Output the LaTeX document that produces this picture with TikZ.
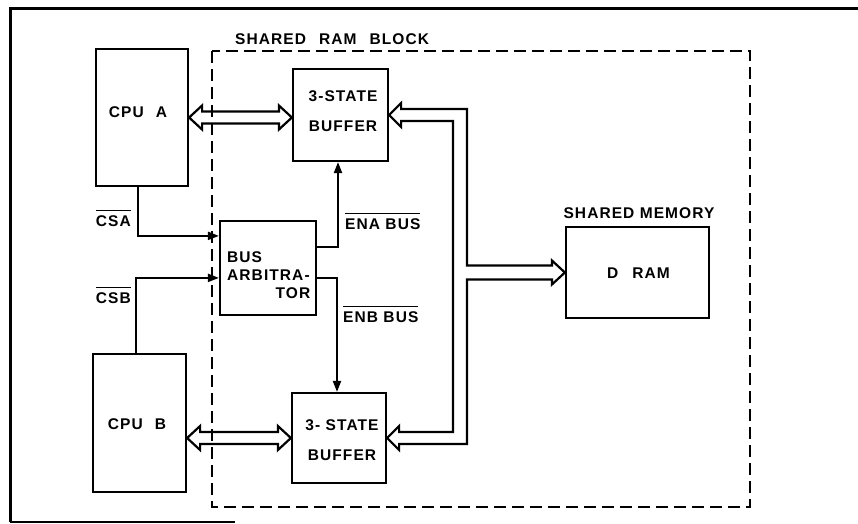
\documentclass[tikz,border=0pt]{standalone}
\usepackage{fontspec}
\newfontfamily\lblfont{Liberation Sans Bold}[LetterSpace=7]
\usetikzlibrary{arrows.meta,calc}
\newcommand\ovl[1]{\vbox{\hrule height 1.5pt\kern 4pt\hbox{#1}}}
\newcommand\dbus[2]{\draw[busline] let \p1=(#1), \p2=(#2) in
  (\x1,\y1) -- (\x1+13pt,\y1+12pt) -- (\x1+13pt,\y1+6pt) -- (\x2-13pt,\y1+6pt)
  -- (\x2-13pt,\y1+12pt) -- (\x2,\y1) -- (\x2-13pt,\y1-12pt) -- (\x2-13pt,\y1-6pt)
  -- (\x1+13pt,\y1-6pt) -- (\x1+13pt,\y1-12pt) -- cycle;}
\begin{document}
\begin{tikzpicture}[x=1pt,y=-1pt,
  box/.style={draw, line width=2.2pt, rectangle, inner sep=0pt},
  txt/.style={font=\lblfont\fontsize{15.5}{30}\selectfont, inner sep=0pt, align=center},
  busline/.style={draw, line width=2.2pt, line join=miter},
  sig/.style={line width=2pt, -{Triangle[length=11pt,width=8pt]}}]
\useasboundingbox (0,0) rectangle (858,523);
% frame
\draw[line width=3pt] (858,8) -- (10,8) -- (10,522);
\draw[line width=2pt] (10,522) -- (235,522);
% shared RAM block
\draw[line width=1.5pt, dash pattern=on 12pt off 6pt] (212,51) rectangle (750,507);
\node[txt, anchor=west] (blocklbl) at (235,39) {SHARED\hspace{13pt}RAM\hspace{13pt}BLOCK};
% boxes
\node[box, minimum width=92pt, minimum height=137pt] (cpua) at (142,117.5) {};
\node[txt] (cpuatxt) at (138,112.5) {CPU\hspace{12pt}A};
\node[box, minimum width=93pt, minimum height=138pt] (cpub) at (139.5,423) {};
\node[txt] (cpubtxt) at (137,424) {CPU\hspace{12pt}B};
\node[box, minimum width=95pt, minimum height=92pt] (bufa) at (340.5,115) {};
\node[txt] (bufatxt) at (343,111) {3-STATE\\BUFFER};
\node[box, minimum width=94pt, minimum height=90pt] (bufb) at (339,438) {};
\node[txt] (bufbtxt) at (342,440) {3- STATE\\BUFFER};
\node[box, minimum width=96pt, minimum height=94pt] (arb) at (268,268) {};
\node[txt, anchor=north west, align=left, text width=83pt,
      font=\lblfont\fontsize{15.5}{18}\selectfont] (arbtxt) at (227,251)
      {BUS\\ARBITRA-\\\hspace*{\fill}TOR};
\node[box, minimum width=143pt, minimum height=91pt] (dram) at (637.5,272.5) {};
\node[txt] (dramtxt) at (638.5,273) {D\hspace{14pt}RAM};
\node[txt] (memlbl) at (639,213) {SHARED MEMORY};
% signal labels
\node[txt, anchor=base east] (csa) at (131,226) {\ovl{CSA}};
\node[txt, anchor=base east] (csb) at (131,303) {\ovl{CSB}};
\node[txt, anchor=base west] (ena) at (345,229) {\ovl{ENA BUS}};
\node[txt, anchor=base west] (enb) at (343,322) {\ovl{ENB BUS}};
% control lines
\draw[sig] ([xshift=-4pt]cpua.south) |- ($(arb.north west)+(0,16)$);
\draw[sig] ([xshift=-3.5pt]cpub.north) |- ($(arb.north west)+(0,58)$);
\draw[sig] ($(arb.north east)+(0,27)$) -| ([xshift=-2.5pt]bufa.south);
\draw[sig] ($(arb.north east)+(0,58)$) -| ([xshift=-2pt]bufb.north);
% buses
\dbus{cpua.east}{bufa.west |- cpua.east}
\dbus{cpub.east |- bufb.west}{bufb.west}
\coordinate (jn) at (460,272);
\draw[busline] let \p1=(bufa.east), \p2=(dram.west), \p3=(bufb.east), \p4=(jn) in
  (\x1,\y1) -- (\x1+12pt,\y1+12pt) -- (\x1+12pt,\y1+6pt) -- (\x4+7pt,\y1+6pt)
  -- (\x4+7pt,\y2+7pt) -- (\x2-13pt,\y2+7pt) -- (\x2-13pt,\y2+12pt) -- (\x2,\y2)
  -- (\x2-13pt,\y2-12pt) -- (\x2-13pt,\y2-7pt) -- (\x4+7pt,\y2-7pt)
  -- (\x4+7pt,\y3-6pt) -- (\x3+12pt,\y3-6pt) -- (\x3+12pt,\y3-12pt) -- (\x3,\y3)
  -- (\x3+12pt,\y3+12pt) -- (\x3+12pt,\y3+6pt) -- (\x4-7pt,\y3+6pt)
  -- (\x4-7pt,\y1-6pt) -- (\x1+12pt,\y1-6pt) -- (\x1+12pt,\y1-12pt) -- cycle;
\end{tikzpicture}
\end{document}
